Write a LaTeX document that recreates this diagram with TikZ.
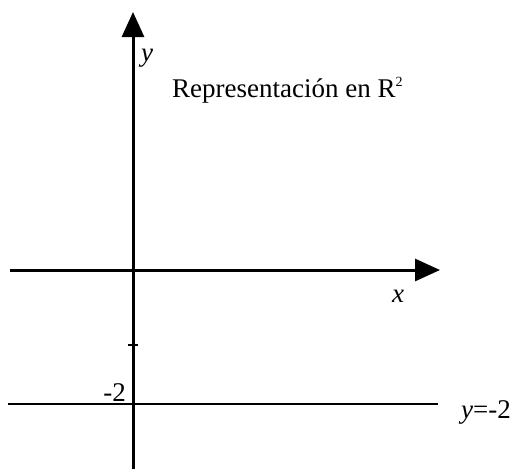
\documentclass[tikz,border=0pt]{standalone}
\usepackage{fontspec}
\setmainfont{Liberation Serif}
\usetikzlibrary{arrows.meta}

\begin{document}
\begin{tikzpicture}[x=1pt, y=-1pt,
  axis/.style={line width=3pt, -{Triangle[length=25pt, width=22pt]}},
  hline/.style={line width=2pt},
  lbl/.style={inner sep=0pt, font=\fontsize{27}{32}\selectfont},
]
  \useasboundingbox (0,0) rectangle (517,469);

  % Axes
  \coordinate (xl) at (10,270);
  \coordinate (xr) at (440,270);
  \coordinate (yb) at (133,469);
  \coordinate (yt) at (133,12);
  \draw[axis] (xl) -- (xr);
  \draw[axis] (yb) -- (yt);

  % Tick and the line y=-2
  \coordinate (tk) at (133,345);
  \draw[line width=2.5pt] ([xshift=-5pt]tk) -- ([xshift=5pt]tk);
  \coordinate (ml) at (8,404);
  \coordinate (mr) at (438,404);
  \draw[hline] (ml) -- (mr);

  % Labels
  \node[lbl, anchor=base west] (ylab) at (141,61) {\itshape y};
  \node[lbl, anchor=base west] (xlab) at (392,302) {\itshape x};
  \node[lbl, anchor=base west] (title) at (172,97)
    {Representación en R\raisebox{11pt}{\fontsize{14}{14}\selectfont 2}};
  \node[lbl, anchor=base east] (mtwo) at (126,401) {-2};
  \node[lbl, anchor=base west] (eqn) at (461,418) {{\itshape y}=-2};
\end{tikzpicture}
\end{document}
